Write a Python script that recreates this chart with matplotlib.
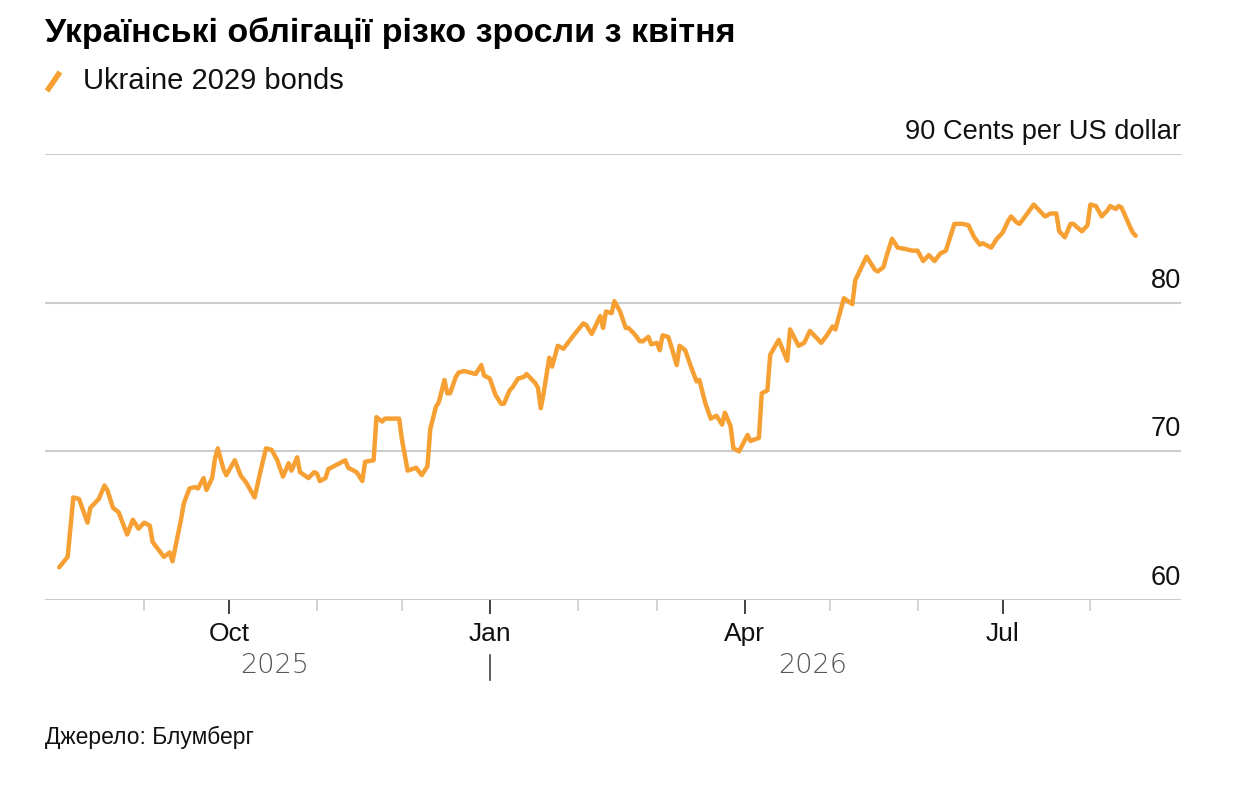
import pandas as pd
import matplotlib
matplotlib.use("Agg")
import matplotlib.pyplot as plt
import matplotlib.dates as mdates
from matplotlib.lines import Line2D
from matplotlib.transforms import blended_transform_factory

plt.rcParams['font.family'] = ['Liberation Sans', 'DejaVu Sans']

# data: days since 2025-08-01 and price in cents
start = pd.Timestamp('2025-08-01')
days = [1, 4, 6, 8, 11, 12, 15, 17, 18, 20, 22, 25, 27, 29, 31, 33, 34, 36, 38, 40,
        41, 44, 45, 47, 49, 50, 52, 53, 55, 56, 57, 59, 60, 63, 65, 67, 70, 72, 74, 76,
        78, 80, 82, 83, 85, 86, 89, 91, 92, 93, 95, 96, 98, 102, 103, 106, 108, 109, 112, 113,
        115, 116, 121, 122, 124, 127, 129, 131, 132, 134, 135, 137, 138, 139, 141, 142, 144, 148, 150, 151,
        153, 155, 157, 158, 160, 161, 163, 165, 166, 167, 169, 170, 171, 172, 174, 175, 177, 179, 181, 183,
        186, 187, 189, 190, 192, 193, 194, 196, 197, 199, 201, 202, 204, 206, 207, 209, 210, 212, 213, 214,
        216, 217, 219, 220, 222, 224, 226, 227, 229, 231, 233, 235, 236, 238, 239, 241, 244, 245, 248, 249,
        251, 252, 255, 258, 259, 262, 264, 266, 270, 272, 274, 275, 278, 281, 282, 284, 286, 289, 290, 292,
        293, 295, 297, 300, 302, 304, 306, 308, 310, 312, 314, 317, 320, 322, 324, 326, 327, 330, 332, 334,
        336, 337, 339, 340, 342, 345, 346, 349, 351, 353, 354, 356, 358, 359, 362, 364, 365, 367, 369, 371,
        372, 374, 375, 376, 379, 380, 381]
prices = [62.2, 62.9, 66.9, 66.8, 65.2, 66.2, 66.8, 67.7, 67.4, 66.2, 65.9, 64.4, 65.4, 64.8, 65.2, 65.0, 63.9, 63.4, 62.9, 63.2,
          62.6, 65.4, 66.5, 67.5, 67.6, 67.5, 68.2, 67.4, 68.2, 69.5, 70.2, 68.8, 68.4, 69.4, 68.4, 67.9, 66.9, 68.6, 70.2, 70.1,
          69.4, 68.3, 69.2, 68.7, 69.6, 68.6, 68.2, 68.6, 68.5, 68.0, 68.2, 68.8, 69.0, 69.4, 68.9, 68.6, 68.0, 69.3, 69.4, 72.3,
          72.0, 72.2, 72.2, 70.8, 68.7, 68.9, 68.4, 69.0, 71.5, 73.0, 73.3, 74.8, 73.9, 73.9, 75.0, 75.3, 75.4, 75.2, 75.8, 75.1,
          74.9, 73.8, 73.2, 73.2, 74.1, 74.3, 74.9, 75.0, 75.2, 75.0, 74.6, 74.3, 72.9, 73.9, 76.3, 75.7, 77.1, 76.9, 77.4, 77.9,
          78.6, 78.5, 77.9, 78.3, 79.1, 78.3, 79.4, 79.3, 80.1, 79.4, 78.3, 78.3, 77.9, 77.4, 77.4, 77.7, 77.2, 77.3, 76.8, 77.8,
          77.7, 77.1, 75.8, 77.1, 76.8, 75.7, 74.7, 74.8, 73.3, 72.2, 72.4, 71.8, 72.6, 71.7, 70.2, 70.0, 71.1, 70.7, 70.9, 73.9,
          74.1, 76.5, 77.5, 76.1, 78.2, 77.1, 77.3, 78.1, 77.3, 77.8, 78.4, 78.2, 80.3, 79.9, 81.5, 82.3, 83.1, 82.2, 82.1, 82.4,
          83.1, 84.3, 83.7, 83.6, 83.5, 83.5, 82.8, 83.2, 82.8, 83.3, 83.5, 85.3, 85.3, 85.2, 84.4, 83.9, 84.0, 83.7, 84.3, 84.7,
          85.5, 85.8, 85.4, 85.3, 85.8, 86.6, 86.4, 85.8, 86.0, 86.0, 84.8, 84.4, 85.3, 85.3, 84.8, 85.2, 86.6, 86.5, 85.8, 86.2,
          86.5, 86.3, 86.5, 86.4, 85.1, 84.7, 84.5]

yticks = [60, 70, 80, 90]
ytick_labels = ['60', '70', '80', '90 Cents per US dollar']
major_months = ['2025-10-01', '2026-01-01', '2026-04-01', '2026-07-01']
major_labels = ['Oct', 'Jan', 'Apr', 'Jul']
minor_months = pd.date_range('2025-09-01', '2026-08-01', freq='MS')
years = ['2025', '2026']
year_split = pd.Timestamp('2026-01-01')

dates = start + pd.to_timedelta(days, unit='D')
orange = '#F6A033'

fig = plt.figure(figsize=(12.34, 7.88), dpi=100)
ax = fig.add_axes([45 / 1234, 1 - 600 / 788, 1136 / 1234, 446 / 788])

ax.plot(dates, prices, color=orange, lw=3.2, solid_joinstyle='round', solid_capstyle='round', zorder=3)

ax.set_ylim(60, 90)
ax.set_xlim(pd.Timestamp('2025-07-28'), pd.Timestamp('2026-09-02'))
for v in yticks:
    ax.axhline(v, color='#cccccc', lw=1.5, zorder=1)
ax.set_yticks([])

ytrans = blended_transform_factory(ax.transAxes, ax.transData)
for v, lab in zip(yticks, ytick_labels):
    ax.text(1.0, v + 0.6, lab, transform=ytrans, ha='right', va='bottom',
            fontsize=19.6, color='#111111')

for s in ax.spines.values():
    s.set_visible(False)

ax.set_xticks(pd.to_datetime(major_months))
ax.set_xticklabels(major_labels)
ax.set_xticks(minor_months, minor=True)
ax.tick_params(axis='x', which='major', length=10, width=1.2, color='#222222',
               labelsize=19, pad=6, labelcolor='#111111')
ax.tick_params(axis='x', which='minor', length=8, width=1.2, color='#cccccc')

# year labels under the month labels
d0, d1 = dates[0], dates[-1]
mids = [d0 + (year_split - d0) / 2, year_split + (d1 - year_split) / 2]
xtrans = blended_transform_factory(ax.transData, ax.transAxes)
for m, y in zip(mids, years):
    ax.text(m, -0.147, y, transform=xtrans, ha='center', va='center',
            fontsize=19.5, color='#555555', fontfamily='DejaVu Sans', fontweight='light')
ax.plot([year_split, year_split], [-0.123, -0.18], transform=xtrans, color='#444444',
        lw=1.2, clip_on=False)

fig.text(45 / 1234, 1 - 33 / 788, 'Українські облігації різко зросли з квітня',
         fontsize=24.5, fontweight='bold', ha='left', va='center', color='#000000')
fig.add_artist(Line2D([47 / 1234, 60 / 1234], [1 - 91 / 788, 1 - 72 / 788],
                      color=orange, lw=4, solid_capstyle='butt'))
fig.text(83 / 1234, 1 - 81 / 788, 'Ukraine 2029 bonds', fontsize=21,
         ha='left', va='center', color='#111111')
fig.text(45 / 1234, 1 - 737 / 788, 'Джерело: Блумберг', fontsize=16.5,
         ha='left', va='center', color='#111111')

fig.savefig('out.png', dpi=100)
